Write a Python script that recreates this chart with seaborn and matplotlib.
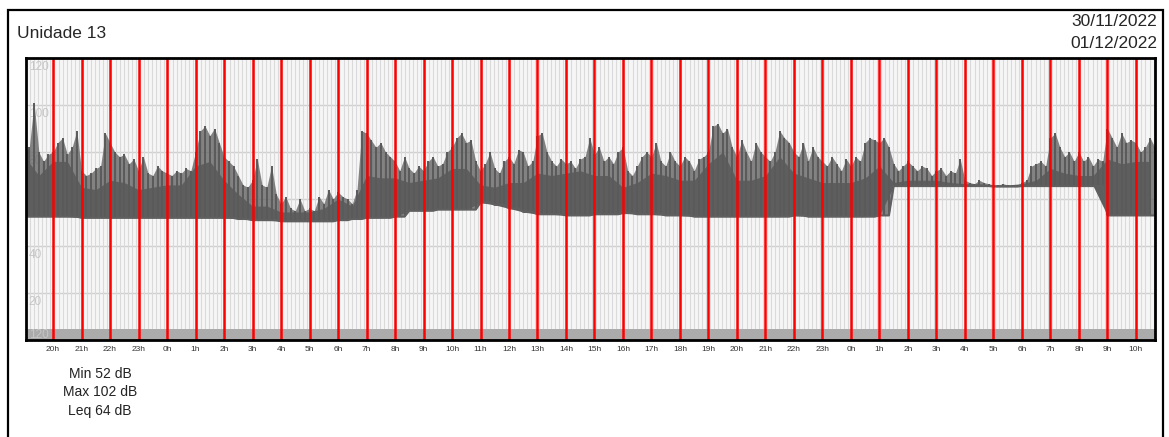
import numpy as np
import matplotlib
matplotlib.use("Agg")
import matplotlib.pyplot as plt
import seaborn as sns
from matplotlib.patches import Rectangle

# hours counted from 20h on 30/11 (0 = 20h)
hour_labels = ["20h", "21h", "22h", "23h", "0h", "1h", "2h", "3h", "4h", "5h",
               "6h", "7h", "8h", "9h", "10h", "11h", "12h", "13h", "14h", "15h",
               "16h", "17h", "18h", "19h", "20h", "21h", "22h", "23h", "0h", "1h",
               "2h", "3h", "4h", "5h", "6h", "7h", "8h", "9h", "10h"]

# lower edge of the trace, every 30 min starting at 19h00
floor_db = [52.5, 52.5, 52.5, 52.5, 52, 52, 52, 52, 52, 52,
            52, 52, 52, 52, 52, 51.5, 51, 51, 50.5, 50.5,
            50.5, 50.5, 51, 51.5, 52, 52, 52.5, 55, 55, 55.5,
            55.5, 55.5, 58.5, 57.5, 56, 54.5, 53.5, 53.5, 53, 53,
            53.5, 53.5, 54, 53.5, 53.5, 53, 53, 52.5, 52.5, 52.5,
            52.5, 52.5, 52.5, 52.5, 53, 52.5, 52.5, 52.5, 52.5, 52.5,
            53, 65.5, 65.5, 65.5, 65.5, 65.5, 65.5, 65.5, 65.3, 65.3,
            65.5, 65.5, 65.5, 65.5, 65.5, 65.5, 53, 53, 53, 53]

# dense body of the trace, every 30 min starting at 19h00
body_db = [78, 70, 76, 76, 65, 64, 68, 67, 64, 65,
           66, 66, 74, 76, 68, 62, 57, 57, 54.5, 54.5,
           54.5, 56, 60, 57, 70, 69, 69, 67, 68, 69,
           73, 73, 66, 65, 67, 67, 71, 70, 71, 72,
           70, 70, 65, 67, 71, 70, 68, 68, 75, 80,
           68, 68, 70, 78, 71, 69, 67, 67, 67, 69,
           74, 67, 68, 68, 68, 67, 66.5, 66.5, 66, 66,
           66.5, 68, 73, 71, 70, 70, 77, 75, 76, 76]

# short peaks, every 10 min, one row per hour starting at 19h
peak_db = [
    80, 82, 101, 80, 76, 79,   # 19h
    80, 84, 86, 79, 82, 89,    # 20h
    72, 70, 71, 73, 74, 88,    # 21h
    84, 80, 78, 79, 75, 77,    # 22h
    72, 78, 71, 70, 74, 72,    # 23h
    71, 70, 72, 71, 73, 72,    # 0h
    80, 89, 91, 87, 90, 84,    # 1h
    78, 76, 74, 70, 66, 65,    # 2h
    68, 77, 66, 65, 74, 62,    # 3h
    58, 61, 56, 55, 60, 55,    # 4h
    56, 55, 61, 58, 64, 60,    # 5h
    63, 61, 60, 58, 64, 89,    # 6h
    88, 85, 82, 84, 80, 78,    # 7h
    76, 72, 78, 73, 71, 74,    # 8h
    72, 76, 78, 74, 75, 80,    # 9h
    82, 86, 88, 84, 85, 76,    # 10h
    72, 75, 80, 73, 71, 76,    # 11h
    78, 75, 81, 80, 74, 76,    # 12h
    87, 88, 80, 76, 74, 77,    # 13h
    75, 76, 73, 77, 78, 86,    # 14h
    79, 82, 76, 78, 75, 80,    # 15h
    82, 72, 70, 74, 78, 80,    # 16h
    78, 84, 76, 74, 80, 76,    # 17h
    74, 78, 76, 72, 77, 78,    # 18h
    80, 91, 92, 88, 90, 82,    # 19h
    78, 85, 80, 76, 84, 80,    # 20h
    78, 76, 80, 89, 86, 84,    # 21h
    80, 78, 84, 76, 82, 78,    # 22h
    76, 74, 78, 75, 72, 77,    # 23h
    74, 78, 76, 84, 86, 85,    # 0h
    84, 86, 82, 75, 72, 74,    # 1h
    76, 74, 72, 74, 73, 70,    # 2h
    72, 73, 70, 72, 71, 77,    # 3h
    68, 67, 66.5, 68, 67, 66.5,  # 4h
    66, 66, 66.5, 66, 66, 66,  # 5h
    67, 68, 74, 75, 76, 74,    # 6h
    86, 88, 82, 78, 80, 76,    # 7h
    80, 76, 78, 74, 77, 76,    # 8h
    90, 86, 82, 88, 84, 85,    # 9h
    84, 80, 82, 86, 82, 80,    # 10h
]

y_ticks = [20, 40, 60, 80, 100, 120]
stats_lines = ["Min 52 dB", "Max 102 dB", "Leq 64 dB"]

t30 = -1 + np.arange(len(floor_db)) * 0.5
t10 = -1 + np.arange(len(peak_db)) / 6

sns.set_style("white")
plt.rcParams['font.family'] = ['Liberation Sans', 'DejaVu Sans']

fig = plt.figure(figsize=(11.69, 4.37), dpi=100)
fig.patches.append(Rectangle((8 / 1169, -0.05), 1155 / 1169, (437 - 10) / 437 + 0.05,
                             transform=fig.transFigure, fill=False,
                             edgecolor='black', linewidth=1.6))

ax = fig.add_axes([26 / 1169, 1 - 340 / 437, (1155 - 26) / 1169, (340 - 58) / 437])
ax.set_facecolor('#f6f6f6')
ax.set_xlim(-0.95, 38.67)
ax.set_ylim(0, 120)

# background grid
ax.set_xticks(np.arange(-0.95, 38.7, 1 / 7), minor=True)
ax.grid(which='minor', axis='x', color='#dadada', linewidth=0.8, zorder=0)
for v in y_ticks:
    ax.axhline(v, color='#d0d0d0', linewidth=1.0, zorder=0.5)
ax.axhspan(0, 4.8, color='#ababab', zorder=0.6, linewidth=0)

for v in y_ticks + [0]:
    lbl = "120" if v == 0 else str(v)
    ax.text(-0.85, v - 4 if v > 0 else 2.2, lbl, fontsize=8.5, color='#c6c6c6',
            ha='left', va='center', zorder=0.7)

# trace
floor10 = np.repeat(floor_db, 3)
ax.fill_between(t10, floor10, peak_db, color='#666666', alpha=0.8,
                linewidth=0, zorder=1.8)
ax.fill_between(t30, floor_db, body_db, color='#5e5e5e', linewidth=0, zorder=2)
ax.vlines(t10, floor10, peak_db, color='#5a5a5a', linewidth=1.4, zorder=2)
sns.lineplot(x=t10, y=floor10, color='#606060', linewidth=1.5, ax=ax, zorder=2)

# hour markers
hours = np.arange(len(hour_labels))
for h in hours:
    ax.axvline(h, color='#ff0000', linewidth=1.8, zorder=3)

ax.set_xticks(hours)
ax.set_xticklabels(hour_labels, fontsize=6, color='#333333')
ax.tick_params(axis='x', which='both', length=0, pad=4)
ax.set_yticks([])
for s in ax.spines.values():
    s.set_color('black')
    s.set_linewidth(2)
    s.set_zorder(4)

fig.text(17 / 1169, 1 - 34 / 437, "Unidade 13", fontsize=12.5, ha='left', va='center')
fig.text(1157 / 1169, 1 - 21 / 437, "30/11/2022", fontsize=12.5, ha='right', va='center')
fig.text(1157 / 1169, 1 - 44 / 437, "01/12/2022", fontsize=12.5, ha='right', va='center')
for i, s in enumerate(stats_lines):
    fig.text(100 / 1169, 1 - (374 + i * 18.5) / 437, s, fontsize=10, ha='center',
             va='center', color='#222222')

fig.savefig("out.png", dpi=100)
